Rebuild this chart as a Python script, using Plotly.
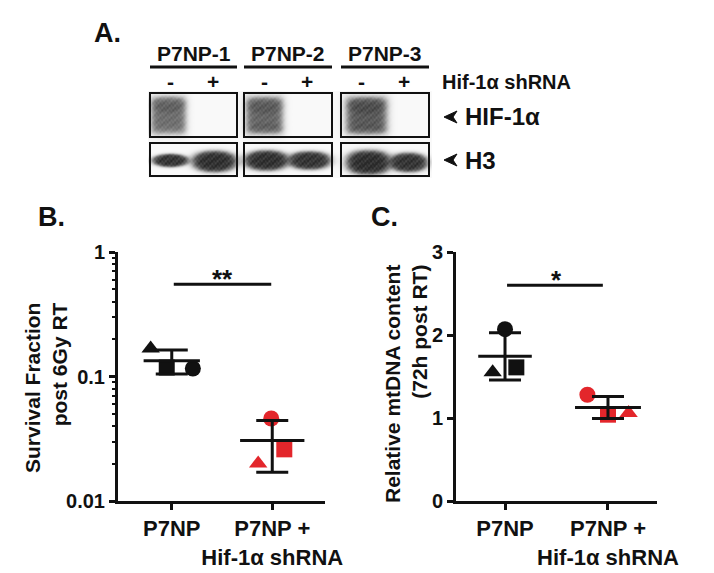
import numpy as np
import zlib, struct, base64
import plotly.graph_objects as go

W, H = 714, 573
OFF = 8  # page body margin offset compensation

# ---------------- data ----------------
groups = ["P7NP", "P7NP +<br>Hif-1α shRNA"]
symbols = ["triangle-up", "square", "circle"]
survival_p7np = [0.168, 0.118, 0.116]
survival_shrna = [0.020, 0.026, 0.046]
mtdna_p7np = [1.55, 1.61, 2.07]
mtdna_shrna = [1.06, 1.04, 1.28]
sig_B = ("**", 0.55)
sig_C = ("*", 2.6)
surv_ticks = [0.01, 0.1, 1]
surv_ticktext = ["0.01", "0.1", "1"]
surv_minor = [0.02, 0.03, 0.04, 0.05, 0.06, 0.07, 0.08, 0.09,
              0.2, 0.3, 0.4, 0.5, 0.6, 0.7, 0.8, 0.9]
mt_ticks = [0, 1, 2, 3]
blot_lines = ["P7NP-1", "P7NP-2", "P7NP-3"]
lane_labels = ["-", "+"]
blot_targets = ["HIF-1α", "H3"]

# ---------------- styles / positions ----------------
FONT = "Liberation Sans"
BLACK = "#111111"
RED = "#e3262b"
jit_B = [[-0.21, -0.05, 0.21], [-0.14, 0.12, -0.01]]
jit_C = [[-0.12, 0.11, 0.0], [0.2, 0.0, -0.2]]
mean_hw_B = [0.28, 0.32]
mean_hw_C = [0.26, 0.32]

def px(x):
    return (x - OFF) / W

def py(y):
    return 1 - (y - OFF) / H

def ann(x, y, text, font, xanchor="center", yanchor="middle", **kw):
    d = dict(x=px(x), y=py(y), xref="paper", yref="paper", text=text, showarrow=False,
             xanchor=xanchor, yanchor=yanchor, font=font)
    d.update(kw)
    return d

fig = go.Figure()

def add_group(xa, ya, gi, vals, jit, color, hw):
    xs = [gi + j for j in jit]
    fig.add_trace(go.Scatter(x=xs, y=vals, mode="markers", xaxis=xa, yaxis=ya,
                             marker=dict(symbol=symbols, size=16, color=color,
                                         line=dict(width=0)),
                             showlegend=False, hoverinfo="skip"))
    m = float(np.mean(vals))
    sd = float(np.std(vals, ddof=1))
    fig.add_trace(go.Scatter(x=[gi - hw, gi + hw], y=[m, m], mode="lines", xaxis=xa, yaxis=ya,
                             line=dict(color=BLACK, width=3), showlegend=False, hoverinfo="skip"))
    fig.add_trace(go.Scatter(x=[gi], y=[m], mode="markers", xaxis=xa, yaxis=ya,
                             marker=dict(size=1, opacity=0),
                             error_y=dict(type="data", array=[sd], color=BLACK, thickness=3, width=16),
                             showlegend=False, hoverinfo="skip"))

add_group("x", "y", 0, survival_p7np, jit_B[0], BLACK, mean_hw_B[0])
add_group("x", "y", 1, survival_shrna, jit_B[1], RED, mean_hw_B[1])
add_group("x2", "y2", 0, mtdna_p7np, jit_C[0], BLACK, mean_hw_C[0])
add_group("x2", "y2", 1, mtdna_shrna, jit_C[1], RED, mean_hw_C[1])

# significance bars
fig.add_trace(go.Scatter(x=[0.02, 0.99], y=[sig_B[1]] * 2, mode="lines", xaxis="x", yaxis="y",
                         line=dict(color=BLACK, width=3), showlegend=False, hoverinfo="skip"))
fig.add_trace(go.Scatter(x=[0.02, 0.95], y=[sig_C[1]] * 2, mode="lines", xaxis="x2", yaxis="y2",
                         line=dict(color=BLACK, width=3), showlegend=False, hoverinfo="skip"))

star_font = dict(family=FONT, size=26, color=BLACK, weight=700)
annotations = [
    dict(x=0.5, y=np.log10(sig_B[1]), xref="x", yref="y", text=sig_B[0], showarrow=False,
         xanchor="center", yanchor="bottom", yshift=-12, font=star_font),
    dict(x=0.5, y=sig_C[1], xref="x2", yref="y2", text=sig_C[0], showarrow=False,
         xanchor="center", yanchor="bottom", yshift=-12, font=star_font),
]

def axis_style(fs):
    return dict(showline=True, linewidth=3, linecolor=BLACK, ticks="outside", ticklen=6,
                tickwidth=3, tickcolor=BLACK, showgrid=False, zeroline=False, automargin=False,
                tickangle=0,
                tickfont=dict(family=FONT, size=fs, color=BLACK, weight=700))

fig.update_layout(
    width=W, height=H, autosize=False,
    margin=dict(l=0, r=0, t=0, b=0, pad=0, autoexpand=False),
    paper_bgcolor="white", plot_bgcolor="white",
    xaxis=dict(domain=[px(118), px(325)], range=[-0.535, 1.525], tickvals=[0, 1],
               ticktext=groups, anchor="y", **axis_style(22)),
    yaxis=dict(domain=[py(501), py(252)], type="log", range=[-2, 0], tickvals=surv_ticks,
               ticktext=surv_ticktext, anchor="x",
               minor=dict(tickvals=surv_minor, ticks="outside", ticklen=3, tickwidth=2,
                          tickcolor=BLACK, showgrid=False),
               **axis_style(20)),
    xaxis2=dict(domain=[px(456), px(657)], range=[-0.476, 1.476], tickvals=[0, 1],
                ticktext=groups, anchor="y2", **axis_style(22)),
    yaxis2=dict(domain=[py(501), py(252)], range=[0, 3], tickvals=mt_ticks, anchor="x2",
                **axis_style(20)),
)

# y-axis titles
title_font = dict(family=FONT, size=21, color=BLACK, weight=700)
annotations += [
    ann(46, 388, "Survival Fraction<br>post 6Gy RT", title_font, textangle=-90, align="right"),
    ann(406, 384, "Relative mtDNA content<br>(72h post RT)", title_font, textangle=-90,
        align="right"),
]

# panel letters
letter_font = dict(family=FONT, size=27, color=BLACK, weight=700)
for txt, x, y in [("A.", 92, 33), ("B.", 36, 217), ("C.", 369, 217)]:
    annotations.append(ann(x, y, txt, letter_font, xanchor="left"))

# ---------------- western blot (panel A) ----------------
box_x = [(150, 237), (244, 332), (341, 429)]
hif_y = (93, 137)
h3_y = (143, 176)
head_font = dict(family=FONT, size=21, color=BLACK, weight=700)
shapes = []
for (x0, x1), name in zip(box_x, blot_lines):
    annotations.append(ann((x0 + x1) / 2, 53, name, head_font))
    shapes.append(dict(type="line", xref="paper", yref="paper", x0=px(x0), x1=px(x1),
                       y0=py(67), y1=py(67), line=dict(color=BLACK, width=3)))
    for frac, lab in zip([0.23, 0.72], lane_labels):
        annotations.append(ann(x0 + frac * (x1 - x0), 81, lab, head_font))
    for (y0, y1) in [hif_y, h3_y]:
        shapes.append(dict(type="rect", xref="paper", yref="paper", x0=px(x0), x1=px(x1),
                           y0=py(y0), y1=py(y1), line=dict(color=BLACK, width=2)))

annotations.append(ann(440, 82, "Hif-1α shRNA", dict(family=FONT, size=20, color=BLACK, weight=700),
                       xanchor="left"))
for txt, yy in zip(blot_targets, [117, 160]):
    annotations.append(ann(463, yy, txt, dict(family=FONT, size=24, color=BLACK, weight=700),
                           xanchor="left"))
    ax, ay = 444, yy
    path = (f"M {px(ax)} {py(ay)} L {px(ax+13)} {py(ay-6)} L {px(ax+9)} {py(ay)} "
            f"L {px(ax+13)} {py(ay+6)} Z")
    shapes.append(dict(type="path", xref="paper", yref="paper", path=path,
                       fillcolor=BLACK, line=dict(color=BLACK, width=1)))

# blot image synthesis
IX0, IY0, IW, IH = 148, 91, 284, 87
yy_, xx_ = np.mgrid[0:IH, 0:IW].astype(float)
xx_ += IX0
yy_ += IY0
bands = [
    # cx, cy, rx, ry, darkness, power
    (168, 115, 17, 18, 0.66, 6), (168, 104, 16, 8, 0.2, 2),
    (264, 115, 18, 18, 0.7, 6), (264, 105, 17, 8, 0.2, 2), (265, 128, 16, 5, 0.15, 2),
    (366, 115, 20, 18, 0.76, 6), (366, 105, 18, 8, 0.25, 2), (366, 129, 18, 5, 0.15, 2),
    (170, 160, 18, 6.5, 0.93, 2), (214, 161, 22, 10.5, 0.95, 2.2),
    (266, 160, 22, 10, 0.95, 2.2), (309, 160, 21, 9, 0.93, 2.2),
    (368, 162, 22, 12, 0.96, 2.4), (408, 162, 19, 9.5, 0.93, 2.2),
]
keep = np.ones_like(xx_)
for cx, cy, rx, ry, d, p in bands:
    r = (np.abs((xx_ - cx) / rx) ** p + np.abs((yy_ - cy) / ry) ** p) ** (1.0 / p)
    a = d / (1 + np.exp((r - 1) * 9))
    keep *= (1 - a)
dark = 1 - keep
mottle = 1 + 0.06 * np.sin(xx_ * 1.7) * np.sin(yy_ * 1.3) + 0.04 * np.sin(xx_ * 0.6 + yy_ * 0.9)
dark = np.clip(dark * mottle, 0, 1)
gray = np.clip(250 * (1 - dark) + 40 * dark, 0, 255).astype(np.uint8)


def png_uri(g):
    h, w = g.shape
    raw = b"".join(b"\x00" + g[i].tobytes() for i in range(h))

    def chunk(t, dd):
        return struct.pack(">I", len(dd)) + t + dd + struct.pack(">I", zlib.crc32(t + dd) & 0xffffffff)

    png = (b"\x89PNG\r\n\x1a\n" + chunk(b"IHDR", struct.pack(">IIBBBBB", w, h, 8, 0, 0, 0, 0))
           + chunk(b"IDAT", zlib.compress(raw, 9)) + chunk(b"IEND", b""))
    return "data:image/png;base64," + base64.b64encode(png).decode()


fig.add_layout_image(dict(source=png_uri(gray), xref="paper", yref="paper", x=px(IX0), y=py(IY0),
                          sizex=IW / W, sizey=IH / H, sizing="stretch", xanchor="left",
                          yanchor="top", layer="below"))

fig.update_layout(annotations=annotations, shapes=shapes)
fig.write_html("out.html", include_plotlyjs=True)
